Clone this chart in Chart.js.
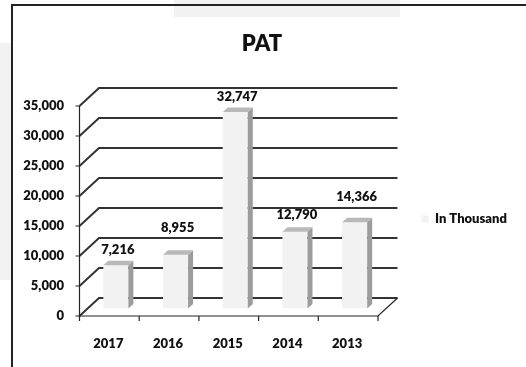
<!DOCTYPE html>
<html>
<head>
<meta charset="utf-8">
<title>PAT</title>
<script src="https://cdn.jsdelivr.net/npm/chart.js@4.4.1/dist/chart.umd.min.js"></script>
<style>
  html, body { margin: 0; padding: 0; background: #fff; }
  body { width: 526px; height: 367px; position: relative; overflow: hidden; }
  .tab { position: absolute; left: 174px; top: 0; width: 226px; height: 17px; background: #f2f2f2; }
  .side { position: absolute; left: 0; top: 43px; width: 11px; height: 237px; background: #f2f2f2; }
  .frame { position: absolute; left: 11px; top: 4px; width: 600px; height: 400px;
           border-left: 2px solid #222; border-top: 2px solid #222; }
  #wrap { position: absolute; left: 0; top: 0; width: 526px; height: 367px; }
</style>
</head>
<body>
<div class="tab"></div>
<div class="side"></div>
<div class="frame"></div>
<div id="wrap"><canvas id="pat" width="526" height="367"></canvas></div>
<script>
// chart values
const years = ['2017', '2016', '2015', '2014', '2013'];
const patValues = [7216, 8955, 32747, 12790, 14366];
const yTicks = [0, 5000, 10000, 15000, 20000, 25000, 30000, 35000];
const seriesName = 'In Thousand';
const chartTitle = 'PAT';

// how far each value label sits above its bar (px), as placed in the original
const labelLift = [15.7, 26.6, 15.3, 16.7, 25];

const FONT = "Lato, 'DejaVu Sans', sans-serif";
const WEIGHT = '800';
Chart.defaults.font.family = FONT;
Chart.defaults.color = '#111';

// fake 3D: offsets of the front plane, the back wall and the bar depth
const FRONT = { dx: -6.5, dy: 7.5 };
const BACK = { dx: 13, dy: -10.5 };
const DEPTH = { dx: 5, dy: -4.5 };

const fmt = (v) => Number(v).toLocaleString('en-US');

const box3d = {
  id: 'box3d',
  beforeDatasetsDraw(chart) {
    const { ctx, chartArea: a, scales: { x, y } } = chart;
    const y0 = y.getPixelForValue(0);
    const yTop = y.getPixelForValue(y.max);
    const fx = a.left + FRONT.dx;
    ctx.save();
    // back wall lines with the left wall diagonals
    ctx.strokeStyle = '#333';
    ctx.lineWidth = 2;
    y.ticks.forEach(t => {
      const py = y.getPixelForValue(t.value);
      ctx.beginPath();
      ctx.moveTo(fx, py + FRONT.dy);
      ctx.lineTo(a.left + BACK.dx, py + BACK.dy);
      ctx.lineTo(a.right + BACK.dx, py + BACK.dy);
      ctx.stroke();
    });
    // floor front edge + right edge
    ctx.strokeStyle = '#222';
    ctx.lineWidth = 1.2;
    ctx.beginPath();
    ctx.moveTo(fx, y0 + FRONT.dy);
    ctx.lineTo(a.right + FRONT.dx, y0 + FRONT.dy);
    ctx.lineTo(a.right + BACK.dx, y0 + BACK.dy);
    ctx.stroke();
    // front value axis + ticks
    ctx.beginPath();
    ctx.moveTo(fx, y0 + FRONT.dy);
    ctx.lineTo(fx, yTop + FRONT.dy);
    y.ticks.forEach(t => {
      const py = y.getPixelForValue(t.value) + FRONT.dy;
      ctx.moveTo(fx - 4, py);
      ctx.lineTo(fx, py);
    });
    // category ticks
    for (let i = 0; i <= years.length; i++) {
      const px = x.getPixelForValue(i - 0.5) + FRONT.dx;
      ctx.moveTo(px, y0 + FRONT.dy);
      ctx.lineTo(px, y0 + FRONT.dy + 5);
    }
    ctx.stroke();
    ctx.restore();
  },
  afterDatasetsDraw(chart) {
    const { ctx } = chart;
    const meta = chart.getDatasetMeta(0);
    ctx.save();
    meta.data.forEach((bar, i) => {
      const { x, y, base, width } = bar.getProps(['x', 'y', 'base', 'width'], true);
      const l = x - width / 2, r = x + width / 2;
      // side face
      ctx.fillStyle = '#9c9c9c';
      ctx.beginPath();
      ctx.moveTo(r, y);
      ctx.lineTo(r + DEPTH.dx, y + DEPTH.dy);
      ctx.lineTo(r + DEPTH.dx, base + DEPTH.dy);
      ctx.lineTo(r, base);
      ctx.closePath();
      ctx.fill();
      // top face
      ctx.fillStyle = '#b9b9b9';
      ctx.beginPath();
      ctx.moveTo(l, y);
      ctx.lineTo(r, y);
      ctx.lineTo(r + DEPTH.dx, y + DEPTH.dy);
      ctx.lineTo(l + DEPTH.dx, y + DEPTH.dy);
      ctx.closePath();
      ctx.fill();
      // value label
      ctx.fillStyle = '#111';
      ctx.font = WEIGHT + ' 13px ' + FONT;
      ctx.textAlign = 'center';
      ctx.textBaseline = 'middle';
      ctx.fillText(fmt(patValues[i]), x + 2, y - labelLift[i]);
    });
    ctx.restore();
  }
};

new Chart(document.getElementById('pat'), {
  type: 'bar',
  data: {
    labels: years,
    datasets: [{
      label: seriesName,
      data: patValues,
      backgroundColor: '#f2f2f2',
      borderWidth: 0,
      barPercentage: 0.42,
      categoryPercentage: 1
    }]
  },
  options: {
    responsive: false,
    animation: false,
    devicePixelRatio: 1,
    layout: { padding: { left: 17, right: 19, top: 0, bottom: 0 } },
    plugins: {
      title: {
        display: true, text: chartTitle, color: '#111',
        font: { size: 22, weight: WEIGHT },
        padding: { top: 31, bottom: 41.1 }
      },
      legend: {
        position: 'right',
        align: 'center',
        // empty legend title only pushes the entry down to where it sat
        title: { display: true, text: ' ', font: { size: 13 }, padding: { top: 55.4, bottom: 0 } },
        labels: { boxWidth: 7, boxHeight: 7, padding: 37, color: '#111', font: { size: 13, weight: WEIGHT } }
      },
      tooltip: { enabled: false }
    },
    scales: {
      x: {
        grid: { display: false, drawTicks: false },
        border: { display: false },
        ticks: { color: '#111', font: { size: 13, weight: WEIGHT }, padding: 27.7, labelOffset: -7.5, maxRotation: 0 },
        afterFit: (s) => { s.height = 58.5; }
      },
      y: {
        min: yTicks[0],
        max: yTicks[yTicks.length - 1],
        grid: { display: false, drawTicks: false },
        border: { display: false },
        afterBuildTicks: (s) => { s.ticks = yTicks.map(v => ({ value: v })); },
        ticks: { padding: 22, labelOffset: 7.5, color: '#111', font: { size: 13, weight: WEIGHT }, callback: fmt },
        afterFit: (s) => { s.width = 69; }
      }
    }
  },
  plugins: [box3d]
});
</script>
</body>
</html>
